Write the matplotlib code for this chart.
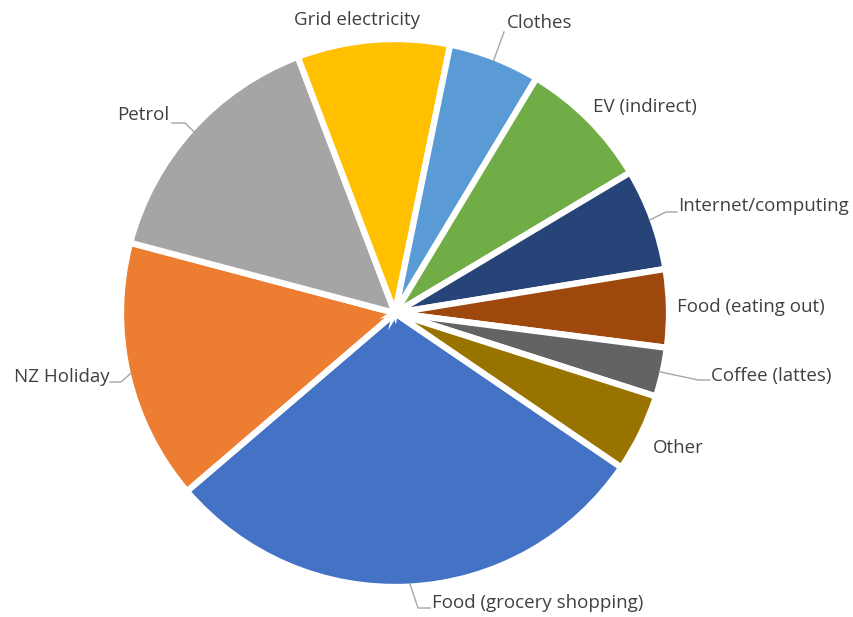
import numpy as np
import matplotlib.pyplot as plt

plt.rcParams['font.family'] = ['Open Sans', 'DejaVu Sans']

# share of footprint (%)
categories = ['Food (grocery shopping)', 'NZ Holiday', 'Petrol', 'Grid electricity',
              'Clothes', 'EV (indirect)', 'Internet/computing', 'Food (eating out)',
              'Coffee (lattes)', 'Other']
values = [29.2, 15.4, 15.1, 9.0, 5.4, 7.8, 6.0, 4.6, 2.9, 4.6]
colors = ['#4472C4', '#ED7D31', '#A5A5A5', '#FFC000', '#5B9BD5', '#70AD47',
          '#264478', '#9E480E', '#636363', '#997300']

W, H = 854, 617
fig = plt.figure(figsize=(W / 100, H / 100), dpi=100)
ax = fig.add_axes([0, 0, 1, 1])

cx, cy, r = 395, H - 313, 271
wedges, _ = ax.pie(values, colors=colors, startangle=90 - 124.3, counterclock=False,
                   center=(cx, cy), radius=r + 3,
                   wedgeprops=dict(edgecolor='white', linewidth=4.5))
ax.set_xlim(0, W)
ax.set_ylim(0, H)
ax.set_aspect('equal')
ax.axis('off')

# label layout in pixel coords (x, y from top), ha
label_pos = {
    'Grid electricity': (357, 20, 'center'),
    'Clothes': (507, 23, 'left'),
    'EV (indirect)': (593, 107, 'left'),
    'Internet/computing': (678, 206, 'left'),
    'Food (eating out)': (677, 307, 'left'),
    'Coffee (lattes)': (711, 376, 'left'),
    'Other': (653, 448, 'left'),
    'Food (grocery shopping)': (432, 603, 'left'),
    'NZ Holiday': (110, 377, 'right'),
    'Petrol': (169, 115, 'right'),
}
# leader lines: (elbow x, end x, y)
leaders = {
    'Petrol': (185, 172, 123),
    'NZ Holiday': (121, 110, 382),
    'Internet/computing': (666, 677, 212),
    'Coffee (lattes)': (698, 710, 380),
    'Food (grocery shopping)': (418, 430, 608),
    'Clothes': (504, 504, 32),
}

for w, name in zip(wedges, categories):
    x, y, ha = label_pos[name]
    ax.text(x, H - y, name, ha=ha, va='center', fontsize=13.5, color='#404040')
    if name in leaders:
        ex, tx, ly = leaders[name]
        mid = np.deg2rad((w.theta1 + w.theta2) / 2)
        px, py = cx + r * np.cos(mid), cy + r * np.sin(mid)
        ax.plot([px, ex, tx], [py, H - ly, H - ly], color='#A6A6A6', lw=1)

fig.savefig('out.png', dpi=100)
